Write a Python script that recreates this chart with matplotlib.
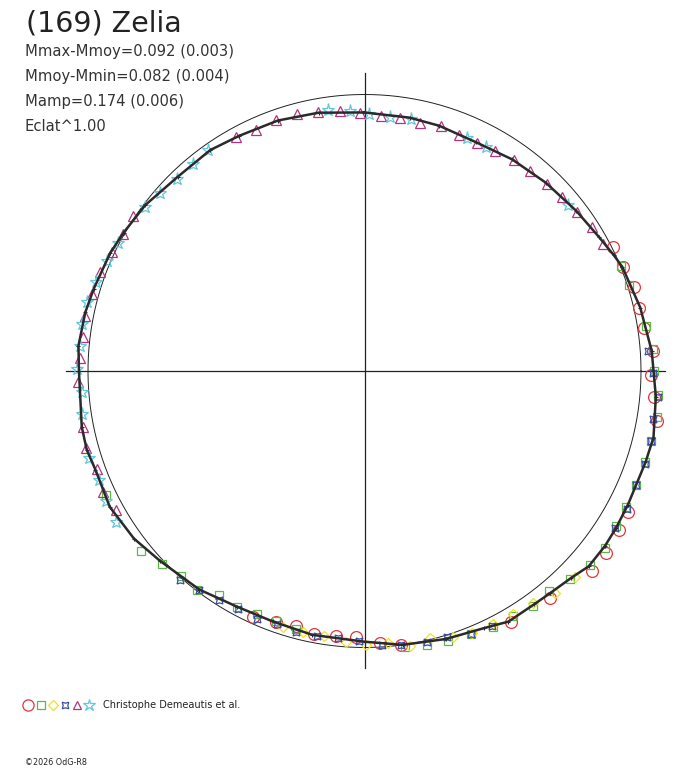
"""Polar lightcurve of (169) Zelia."""
import numpy as np
import matplotlib
matplotlib.use("Agg")
import matplotlib.pyplot as plt

# --- data: rotational phase (0..1) and magnitude relative to mean ---
curve_phase = [0.000, 0.028, 0.047, 0.072, 0.097, 0.122, 0.147, 0.167, 0.181, 0.189,
               0.214, 0.239, 0.264, 0.286, 0.300, 0.325, 0.339, 0.350, 0.364, 0.375,
               0.389, 0.400, 0.417, 0.431, 0.453, 0.478, 0.500, 0.531, 0.556, 0.579,
               0.603, 0.631, 0.650, 0.672, 0.694, 0.706, 0.719, 0.750, 0.764, 0.783,
               0.797, 0.819, 0.833, 0.853, 0.878, 0.903, 0.922, 0.947, 0.972]
curve_mag = [0.073, 0.078, 0.082, 0.090, 0.075, 0.061, 0.044, 0.026, 0.006, -0.006,
             -0.025, -0.044, -0.061, -0.076, -0.072, -0.072, -0.076, -0.079, -0.079, -0.061,
             -0.050, -0.046, -0.048, -0.027, -0.014, 0.000, 0.023, 0.030, 0.039, 0.034,
             0.010, -0.010, -0.033, -0.047, -0.039, -0.047, -0.045, -0.035, -0.041, -0.034,
             -0.025, -0.015, -0.005, 0.006, 0.028, 0.028, 0.040, 0.046, 0.057]

s1_phase = [0.176, 0.189, 0.202, 0.214, 0.226, 0.239, 0.252, 0.264, 0.277, 0.328, 0.339,
            0.353, 0.365, 0.391, 0.416, 0.479, 0.491, 0.505, 0.517, 0.530, 0.542, 0.554, 0.568]
s1_mag = [-0.004, -0.009, -0.023, -0.022, -0.025, -0.047, -0.037, -0.054, -0.076, -0.085, -0.089,
          -0.097, -0.100, -0.064, -0.053, 0.000, 0.015, 0.040, 0.040, 0.035, 0.049, 0.041, 0.025]

s2_phase = [0.188, 0.200, 0.225, 0.238, 0.250, 0.263, 0.275, 0.288, 0.300, 0.313, 0.326,
            0.338, 0.351, 0.363, 0.376, 0.389, 0.401, 0.413, 0.426, 0.439, 0.452, 0.464,
            0.477, 0.541, 0.554, 0.566, 0.579, 0.592, 0.604, 0.616, 0.629, 0.642, 0.679]
s2_mag = [-0.003, -0.007, -0.032, -0.049, -0.050, -0.069, -0.074, -0.069, -0.071, -0.068, -0.070,
          -0.074, -0.082, -0.081, -0.063, -0.042, -0.048, -0.038, -0.037, -0.027, -0.024, -0.017,
          -0.011, 0.038, 0.044, 0.042, 0.033, 0.038, 0.002, 0.006, -0.014, -0.040, -0.040]

s3_phase = [0.373, 0.387, 0.400, 0.413, 0.425, 0.438, 0.449, 0.462, 0.474, 0.486, 0.499,
            0.511, 0.524, 0.537, 0.549]
s3_mag = [-0.069, -0.062, -0.039, -0.033, -0.029, -0.027, -0.016, 0.005, -0.009, 0.015, 0.010,
          0.020, 0.034, 0.031, 0.033]

s4_phase = [0.239, 0.251, 0.264, 0.276, 0.288, 0.301, 0.313, 0.327, 0.339, 0.426, 0.439,
            0.452, 0.464, 0.479, 0.490, 0.503, 0.516, 0.528, 0.541, 0.553, 0.565, 0.578,
            0.590, 0.603, 0.615]
s4_mag = [-0.031, -0.045, -0.070, -0.062, -0.069, -0.071, -0.068, -0.074, -0.073, -0.033, -0.027,
          -0.009, -0.005, 0.000, 0.008, 0.026, 0.031, 0.030, 0.028, 0.035, 0.023, 0.028,
          0.019, 0.010, -0.007]

s5_phase = [0.172, 0.160, 0.148, 0.135, 0.123, 0.110, 0.098, 0.085, 0.073, 0.061, 0.048,
            0.035, 0.022, 0.010, 0.997, 0.985, 0.972, 0.959, 0.946, 0.933, 0.920, 0.844,
            0.832, 0.820, 0.807, 0.794, 0.781, 0.769, 0.757, 0.744, 0.719, 0.707, 0.694,
            0.681, 0.669]
s5_mag = [0.024, 0.029, 0.045, 0.055, 0.063, 0.068, 0.074, 0.084, 0.090, 0.092, 0.082,
          0.090, 0.087, 0.086, 0.074, 0.061, 0.053, 0.043, 0.040, 0.048, 0.040, -0.009,
          -0.004, -0.010, -0.023, -0.028, -0.033, -0.029, -0.032, -0.038, -0.041, -0.046, -0.034,
          -0.045, -0.033]

s6_phase = [0.141, 0.079, 0.066, 0.029, 0.016, 0.003, 0.991, 0.978, 0.902, 0.890, 0.877,
            0.864, 0.852, 0.826, 0.814, 0.801, 0.789, 0.776, 0.764, 0.751, 0.738, 0.726,
            0.701, 0.688, 0.676, 0.663]
s6_mag = [0.055, 0.090, 0.090, 0.084, 0.085, 0.079, 0.064, 0.052, 0.025, 0.031, 0.032,
          0.021, 0.011, -0.004, -0.014, -0.023, -0.035, -0.039, -0.037, -0.041, -0.028, -0.036,
          -0.047, -0.039, -0.048, -0.054]

sessions = [
    (s1_phase, s1_mag, "o", "#e5343a", 8.5),
    (s2_phase, s2_mag, "s", "#5cb848", 5.5),
    (s3_phase, s3_mag, "D", "#f2e21a", 5.0),
    (s4_phase, s4_mag, (4, 1, 45), "#3a4fa8", 7.0),
    (s5_phase, s5_mag, "^", "#b3337f", 6.8),
    (s6_phase, s6_mag, "*", "#62c6dc", 9.5),
]


def to_xy(phase, mag):
    phase = np.asarray(phase)
    r = 10 ** (-0.4 * np.asarray(mag))
    ang = np.deg2rad(90 - 360 * phase)
    return r * np.cos(ang), r * np.sin(ang)


W, H = 688, 768
cx, cy, R = 364.5, 371.0, 276.5      # pixel centre and unit radius
fig = plt.figure(figsize=(W / 100, H / 100), dpi=100)
ax = fig.add_axes([0, 0, 1, 1])
ax.set_xlim(-cx / R, (W - cx) / R)
ax.set_ylim(-(H - cy) / R, cy / R)
ax.axis("off")

# axes cross and mean circle
ax.plot([-1.080, 1.087], [0, 0], color="#222222", lw=0.9)
ax.plot([0, 0], [-1.074, 1.078], color="#222222", lw=0.9)
t = np.linspace(0, 2 * np.pi, 400)
ax.plot(np.cos(t), np.sin(t), color="#222222", lw=0.7)

# sessions
for ph, mg, mk, col, ms in sessions:
    x, y = to_xy(ph, mg)
    ax.plot(x, y, ls="none", marker=mk, ms=ms, mfc="none", mec=col, mew=0.9, zorder=3)

# lightcurve
x, y = to_xy(curve_phase + curve_phase[:1], curve_mag + curve_mag[:1])
ax.plot(x, y, color="#2a2a2a", lw=1.8, marker="+", ms=3, mew=0.8, zorder=4)

# texts
fx = lambda px: px / W
fy = lambda py: 1 - py / H
fig.text(fx(25.5), fy(31.7), "(169) Zelia", fontsize=20.5, color="#222222", va="baseline")
lines = ["Mmax-Mmoy=0.092 (0.003)", "Mmoy-Mmin=0.082 (0.004)",
         "Mamp=0.174 (0.006)", "Eclat^1.00"]
for i, s in enumerate(lines):
    fig.text(fx(25), fy(55.7 + 25 * i), s, fontsize=10.6, color="#333333", va="baseline")

# footer legend
for i, (ph, mg, mk, col, ms) in enumerate(sessions):
    ax.plot([fx(28.3 + 12.2 * i)], [fy(704.5)], transform=fig.transFigure, ls="none",
            marker=mk, ms=ms * 0.95, mfc="none", mec=col, mew=0.9)
fig.text(fx(103), fy(705.5), "Christophe Demeautis et al.", fontsize=7.0,
         color="#222222", va="center")
fig.text(fx(25), fy(762.7), "\u00a92026 OdG-R8", fontsize=5.8, color="#222222", va="center")

fig.savefig("out.png", dpi=100)
